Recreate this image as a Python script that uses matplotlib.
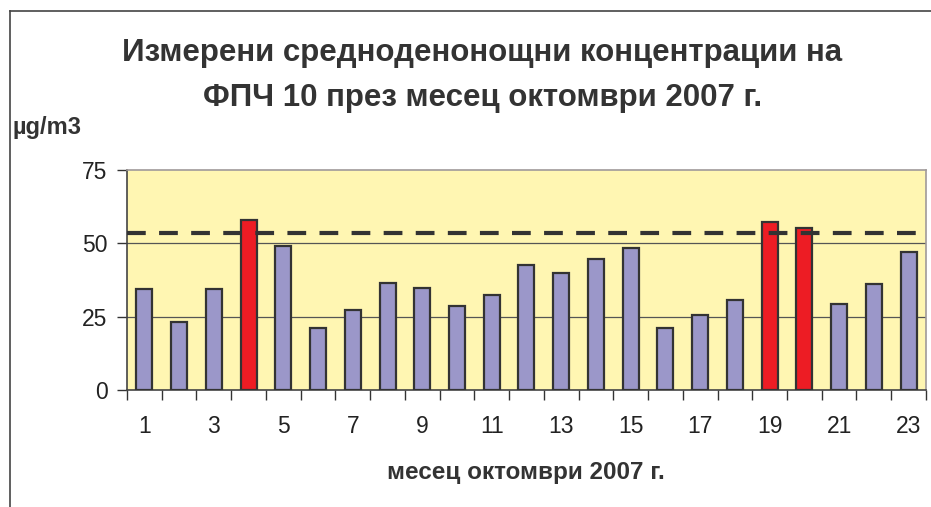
import numpy as np
import matplotlib.pyplot as plt
from matplotlib.lines import Line2D

plt.rcParams['font.family'] = ['Liberation Sans', 'DejaVu Sans']

days = list(range(1, 24))
values = [34.5, 23.3, 34.5, 57.8, 49.2, 21.3, 27.3, 36.6, 34.6, 28.7,
          32.5, 42.6, 39.8, 44.6, 48.5, 21.3, 25.4, 30.6, 57.2, 55.2,
          29.3, 36.0, 47.2]
limit = 53.5
y_ticks = [0, 25, 50, 75]
x_labels = [str(d) if d % 2 == 1 else '' for d in days]

title = 'Измерени средноденонощни концентрации на\nФПЧ 10 през месец октомври 2007 г.'
x_title = 'месец октомври 2007 г.'
y_title = 'µg/m3'

purple = '#9b97c9'
red = '#ed1c24'
edge = '#333333'

fig = plt.figure(figsize=(9.31, 5.07), dpi=100)
ax = fig.add_axes([0.1364, 0.2308, 0.8582, 0.4339])
ax.set_facecolor('#fff6b2')

x = np.arange(len(days))
colors = [red if v > limit else purple for v in values]
ax.bar(x, values, width=0.46, color=colors, edgecolor=edge, linewidth=1.6, zorder=3)

for v in y_ticks[1:3]:
    ax.axhline(v, color='#555555', linewidth=0.9, zorder=1)
ax.axhline(limit, color='#333333', linewidth=3, linestyle=(0, (4.5, 3.2)), zorder=4)

ax.set_xlim(-0.5, len(days) - 0.5)
ax.set_ylim(0, 75)
ax.set_yticks(y_ticks)
ax.set_xticks(x)
ax.set_xticklabels(x_labels)
ax.set_xticks(np.arange(-0.5, len(days)), minor=True)
ax.tick_params(axis='x', which='major', length=0, pad=18, labelsize=16.5, colors='#222222')
ax.tick_params(axis='x', which='minor', length=7, width=1, color='#333333', direction='out')
ax.tick_params(axis='y', length=7, width=1, color='#333333', labelsize=16.5, pad=7, labelcolor='#222222')

ax.spines['left'].set_color('#444444')
ax.spines['bottom'].set_color('#444444')
ax.spines['top'].set_color('#a09a9a')
ax.spines['right'].set_color('#a09a9a')
for s in ax.spines.values():
    s.set_linewidth(1.2)

fig.text(0.518, 0.851, title, ha='center', va='center', fontsize=22.5,
         fontweight='bold', color='#333333', linespacing=1.65)
fig.text(0.013, 0.748, y_title, ha='left', va='center', fontsize=17,
         fontweight='bold', color='#333333')
fig.text(0.565, 0.069, x_title, ha='center', va='center', fontsize=17.5,
         fontweight='bold', color='#333333')

# partial chart frame
fig.add_artist(Line2D([0.0107, 1.0], [0.978, 0.978], color='#444444', linewidth=1.2))
fig.add_artist(Line2D([0.0107, 0.0107], [0.0, 0.978], color='#444444', linewidth=1.2))

fig.savefig('out.png', dpi=100)
